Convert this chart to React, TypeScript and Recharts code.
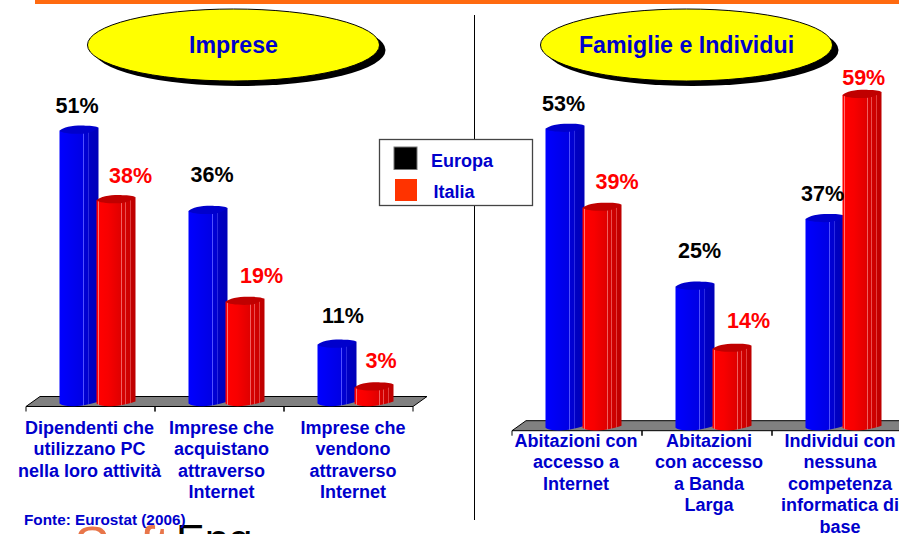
import { BarChart, Bar, XAxis, YAxis, LabelList } from "recharts";

// Imprese panel
const impreseLabels = [
  ["Dipendenti che", "utilizzano PC", "nella loro attività"],
  ["Imprese che", "acquistano", "attraverso", "Internet"],
  ["Imprese che", "vendono", "attraverso", "Internet"],
];
const impreseEuropa = [51, 36, 11];
const impreseItalia = [38, 19, 3];

// Famiglie e Individui panel
const famiglieLabels = [
  ["Abitazioni con", "accesso a", "Internet"],
  ["Abitazioni", "con accesso", "a Banda", "Larga"],
  ["Individui con", "nessuna", "competenza", "informatica di", "base"],
];
const famiglieEuropa = [53, 25, 37];
const famiglieItalia = [39, 14, 59];

const toRows = (labels: string[][], europa: number[], italia: number[]) =>
  labels.map((lines, i) => ({ name: lines.join(" "), europa: europa[i], italia: italia[i] }));

const FONT = "'Liberation Sans', Arial, sans-serif";
const TEXT_BLUE = "#0000cc";
const MAX_VALUE = 60;
const BAR_WIDTH = 39;
const BAR_SHIFT = 6.5; // the cylinders sit right of the band centre because of the 3D depth
const FLOOR_DX = 14;
const FLOOR_DY = 10;

// Cylinder drawn from the rectangle the Bar computes
function Cylinder(props: any) {
  const { x, y, height, gradient, cap } = props;
  const l = x + BAR_SHIFT;
  const r = l + BAR_WIDTH;
  const b = y + height;
  const body = `M${l},${y - 3} L${l},${b - 3} C${l + 5},${b + 1} ${l + 20},${b + 1} ${r},${b - 5} L${r},${y - 6} Z`;
  const top = `M${l},${y - 3} C${l + 4},${y - 6.5} ${l + 14},${y - 8.5} ${l + 26},${y - 8} C${l + 32},${y - 8} ${r - 2},${y - 7.5} ${r},${y - 6} C${r - 4},${y - 3} ${l + 30},${y - 0.5} ${l + 24},${y} C${l + 14},${y + 0.5} ${l + 2},${y - 0.5} ${l},${y - 3} Z`;
  return (
    <g>
      <path d={body} fill={`url(#${gradient})`} />
      <path d={top} fill={cap} />
    </g>
  );
}

function ValueLabel(props: any) {
  const { x, y, width, value, index, color, nudgeX, nudgeY } = props;
  return (
    <text
      x={x + width / 2 + BAR_SHIFT + nudgeX[index]}
      y={y + nudgeY[index] + 7.5}
      textAnchor="middle"
      fontFamily={FONT}
      fontWeight="bold"
      fontSize={21.5}
      fill={color}
    >
      {value}%
    </text>
  );
}

function CategoryTick(props: any) {
  const { x, payload, index, labels, nudges, firstLine, base, band } = props;
  const lines: string[] = labels[index];
  return (
    <g>
      <line x1={x - band / 2} x2={x - band / 2} y1={base} y2={base + 5} stroke="#000" />
      <line x1={x + band / 2} x2={x + band / 2} y1={base} y2={base + 5} stroke="#000" />
      <text
        textAnchor="middle"
        fontFamily={FONT}
        fontWeight="bold"
        fontSize={18}
        fill={TEXT_BLUE}
        aria-label={payload.value}
      >
        {lines.map((line, i) => (
          <tspan key={i} x={x + nudges[index]} y={firstLine + i * 21.4}>
            {line}
          </tspan>
        ))}
      </text>
    </g>
  );
}

function Panel(props: any) {
  const { rows, labels, left, width, plotLeft, plotRight, base, scale, firstLine, tickNudges, eu, it } = props;
  const plotTop = base - MAX_VALUE * scale;
  const band = (plotRight - plotLeft) / rows.length;
  const height = 534;
  const xAxisHeight = 30;
  return (
    <div style={{ position: "absolute", left, top: 0 }}>
      <BarChart
        width={width}
        height={height}
        data={rows}
        barSize={BAR_WIDTH}
        barGap={-2}
        margin={{ left: plotLeft, right: width - plotRight, top: plotTop, bottom: height - base - xAxisHeight }}
      >
        <defs>
          <linearGradient id="cylBlue" x1="0" x2="1" y1="0" y2="0">
            <stop offset="0" stopColor="#0000ff" />
            <stop offset="0.6" stopColor="#0000e4" />
            <stop offset="0.6" stopColor="#5050ff" />
            <stop offset="0.625" stopColor="#5050ff" />
            <stop offset="0.625" stopColor="#0000d4" />
            <stop offset="0.74" stopColor="#0000d0" />
            <stop offset="0.74" stopColor="#2a2ae0" />
            <stop offset="0.76" stopColor="#2a2ae0" />
            <stop offset="0.76" stopColor="#0000c4" />
            <stop offset="1" stopColor="#0000b8" />
          </linearGradient>
          <linearGradient id="cylRed" x1="0" x2="1" y1="0" y2="0">
            <stop offset="0" stopColor="#ff0000" />
            <stop offset="0.04" stopColor="#ff0000" />
            <stop offset="0.04" stopColor="#ff7070" />
            <stop offset="0.07" stopColor="#ff7070" />
            <stop offset="0.07" stopColor="#ff0000" />
            <stop offset="0.3" stopColor="#f80000" />
            <stop offset="0.62" stopColor="#e00000" />
            <stop offset="0.62" stopColor="#f06060" />
            <stop offset="0.645" stopColor="#f06060" />
            <stop offset="0.645" stopColor="#d80000" />
            <stop offset="0.74" stopColor="#d40000" />
            <stop offset="0.74" stopColor="#e85050" />
            <stop offset="0.76" stopColor="#e85050" />
            <stop offset="0.76" stopColor="#d00000" />
            <stop offset="0.86" stopColor="#cc0000" />
            <stop offset="0.86" stopColor="#e04040" />
            <stop offset="0.88" stopColor="#e04040" />
            <stop offset="0.88" stopColor="#c40000" />
            <stop offset="1" stopColor="#bc0000" />
          </linearGradient>
        </defs>
        {/* grey floor under the cylinders */}
        <polygon
          points={`${plotLeft},${base} ${plotRight},${base} ${plotRight + FLOOR_DX},${base - FLOOR_DY} ${plotLeft + FLOOR_DX},${base - FLOOR_DY}`}
          fill="#808080"
          stroke="#000"
        />
        <YAxis hide domain={[0, MAX_VALUE]} />
        <XAxis
          dataKey="name"
          height={xAxisHeight}
          interval={0}
          axisLine={false}
          tickLine={false}
          tick={<CategoryTick labels={labels} nudges={tickNudges} firstLine={firstLine} base={base} band={band} />}
        />
        <Bar
          dataKey="europa"
          isAnimationActive={false}
          shape={<Cylinder gradient="cylBlue" cap="#0000cc" />}
        >
          <LabelList
            dataKey="europa"
            content={<ValueLabel color="#000000" nudgeX={eu.dx} nudgeY={eu.dy} />}
          />
        </Bar>
        <Bar
          dataKey="italia"
          isAnimationActive={false}
          shape={<Cylinder gradient="cylRed" cap="#c00000" />}
        >
          <LabelList
            dataKey="italia"
            content={<ValueLabel color="#ff0000" nudgeX={it.dx} nudgeY={it.dy} />}
          />
        </Bar>
      </BarChart>
    </div>
  );
}

function Title({ cx, text }: { cx: number; text: string }) {
  return (
    <g>
      <ellipse cx={cx + 6} cy={50} rx={146} ry={36} fill="#000" />
      <ellipse cx={cx} cy={45} rx={146} ry={36} fill="#ffff00" stroke="#000" />
      <text x={cx} y={53} textAnchor="middle" fontFamily={FONT} fontWeight="bold" fontSize={23.2} fill={TEXT_BLUE}>
        {text}
      </text>
    </g>
  );
}

// Slide furniture behind the two charts
function Backdrop() {
  return (
    <svg width={899} height={534} style={{ position: "absolute", left: 0, top: 0 }}>
      <rect x={35} y={0} width={864} height={4} fill="#ff6a10" />
      <line x1={474.5} x2={474.5} y1={15} y2={520} stroke="#000" />
      <Title cx={233.5} text="Imprese" />
      <Title cx={686.5} text="Famiglie e Individui" />
      <text x={74} y={564} fontFamily={FONT} fontSize={54} fill="#e8764a">Soft</text>
      <text x={176} y={554} fontFamily={FONT} fontSize={43} fill="#000">Eng</text>
      <text x={24} y={525} fontFamily={FONT} fontWeight="bold" fontSize={15.3} fill={TEXT_BLUE}>
        Fonte: Eurostat (2006)
      </text>
    </svg>
  );
}

function Legend() {
  return (
    <svg width={899} height={534} style={{ position: "absolute", left: 0, top: 0, pointerEvents: "none" }}>
      <rect x={379.5} y={139.5} width={153} height={66} fill="#fff" stroke="#444" strokeWidth={1.3} />
      <rect x={394} y={147} width={23} height={22.5} fill="#000" stroke="#777" />
      <rect x={395} y={179} width={22} height={22} fill="#ff3300" />
      <text x={431} y={167} fontFamily={FONT} fontWeight="bold" fontSize={18} fill={TEXT_BLUE}>Europa</text>
      <text x={433.5} y={198} fontFamily={FONT} fontWeight="bold" fontSize={18} fill={TEXT_BLUE}>Italia</text>
    </svg>
  );
}

export default function App() {
  return (
    <div
      style={{
        position: "fixed",
        left: 0,
        top: 0,
        width: 899,
        height: 534,
        overflow: "hidden",
        background: "#fff",
      }}
    >
      <Backdrop />
      <Panel
        rows={toRows(impreseLabels, impreseEuropa, impreseItalia)}
        labels={impreseLabels}
        left={0}
        width={450}
        plotLeft={26}
        plotRight={413}
        base={406.5}
        scale={5.35}
        firstLine={434}
        tickNudges={[-1, 2, 4.5]}
        eu={{ dx: [-2, 4, 6], dy: [-28, -39, -32] }}
        it={{ dx: [14.5, 16.5, 7], dy: [-28, -29, -30] }}
      />
      <Panel
        rows={toRows(famiglieLabels, famiglieEuropa, famiglieItalia)}
        labels={famiglieLabels}
        left={450}
        width={460}
        plotLeft={62}
        plotRight={452}
        base={430.7}
        scale={5.64}
        firstLine={447}
        tickNudges={[-1, 2, 3]}
        eu={{ dx: [-1.5, 4.5, -2.5], dy: [-28, -39, -29] }}
        it={{ dx: [15, 16.5, 1.7], dy: [-29, -31, -20] }}
      />
      <Legend />
    </div>
  );
}
